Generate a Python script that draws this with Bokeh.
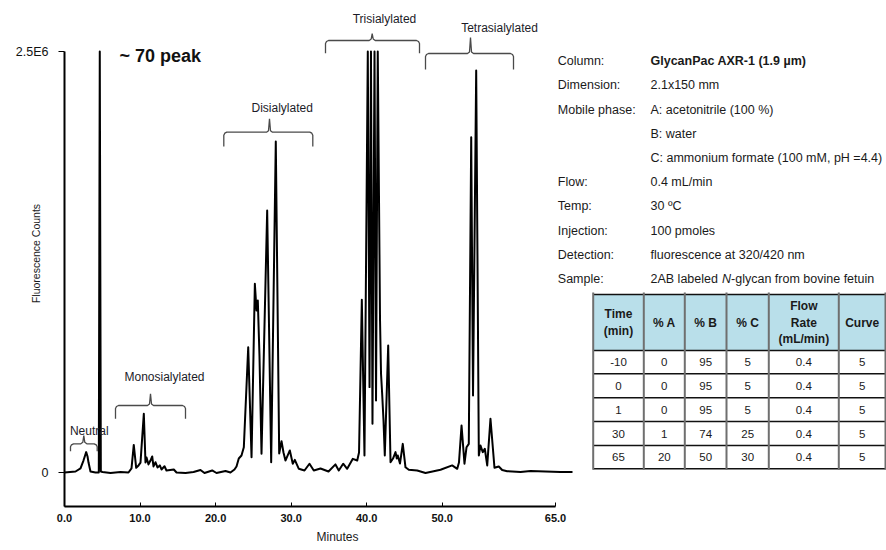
import math
from bokeh.plotting import figure
from bokeh.models import Range1d, FixedTicker, NumeralTickFormatter, Title
from bokeh.core.properties import value
from bokeh.embed import file_html
from bokeh.resources import INLINE

# ---------------- data ----------------
trace_time_min = [
    0.00, 1.46, 2.12, 2.51, 2.87, 3.05, 3.18, 3.44, 4.10, 4.54, 4.67, 4.81, 5.03, 6.09, 7.41,
    8.47, 8.87, 9.17, 9.49, 9.80, 10.06, 10.50, 10.72, 10.86, 11.12, 11.38, 11.61, 11.78, 12.05,
    12.31, 12.62, 12.84, 13.24, 13.50, 14.47, 14.83, 16.02, 17.08, 18.00, 18.53, 19.55, 20.12,
    21.31, 21.97, 22.50, 22.77, 23.07, 23.43, 23.74, 24.32, 24.76, 25.20, 25.42, 25.59, 25.81,
    26.08, 26.83, 27.36, 27.97, 28.42, 28.73, 28.99, 29.25, 29.83, 30.22, 30.49, 31.02, 31.77,
    32.43, 33.00, 33.89, 34.95, 35.87, 36.31, 36.89, 37.42, 38.17, 38.75, 38.99, 39.36, 39.71,
    40.15, 40.38, 40.57, 40.77, 41.04, 41.24, 41.47, 41.77, 41.90, 42.05, 42.23, 42.40, 42.85,
    43.16, 43.49, 43.82, 43.99, 44.12, 44.41, 44.78, 45.14, 45.58, 46.69, 47.79, 48.72, 49.78,
    51.32, 51.99, 52.22, 52.56, 52.95, 53.22, 53.52, 53.84, 54.08, 54.50, 54.85, 55.07, 55.37,
    55.64, 55.96, 56.39, 56.92, 57.49, 57.94, 58.60, 60.37, 61.69, 63.67, 65.66, 67.25,
]
trace_counts_1e6 = [
    0.000, 0.006, 0.024, 0.071, 0.121, 0.095, 0.059, 0.006, 0.000, 0.000, 2.500, 0.006, 0.003, -0.003, 0.003,
    0.000, 0.024, 0.164, 0.028, 0.042, 0.059, 0.349, 0.059, 0.089, 0.048, 0.071, 0.095, 0.036, 0.061,
    0.030, 0.042, 0.018, 0.037, 0.012, 0.018, 0.000, -0.003, 0.003, 0.015, -0.003, 0.012, -0.003,
    0.009, 0.000, 0.018, 0.036, 0.083, 0.101, 0.150, 0.744, 0.091, 1.121, 0.962, 1.021, 0.695,
    0.111, 1.556, 0.061, 1.966, 0.113, 0.186, 0.119, 0.071, 0.131, 0.052, 0.075, 0.022, 0.012,
    0.052, 0.012, 0.024, 0.006, 0.048, 0.012, 0.052, 0.022, 0.081, 0.071, 0.119, 1.026, 0.101,
    2.500, 0.507, 2.500, 0.289, 2.500, 0.428, 2.500, 0.903, 0.588, 0.469, 0.309, 0.101, 0.754,
    0.061, 0.083, 0.121, 0.083, 0.101, 0.053, 0.170, 0.031, 0.016, 0.012, -0.003, 0.006, 0.016,
    0.042, 0.022, 0.059, 0.279, 0.052, 0.150, 0.170, 1.991, 0.457, 2.387, 0.101, 0.160, 0.121,
    0.141, 0.042, 0.319, 0.028, 0.036, 0.015, 0.008, 0.003, 0.009, 0.006, 0.003, 0.003,
]

x_tick_values = [0, 10, 20, 30, 40, 50, 65]
y_tick_values = [0, 2.5]
y_tick_labels = ["0", "2.5E6"]

peak_groups = ["Neutral", "Monosialylated", "Disialylated", "Trisialylated", "Tetrasialylated"]

cond_labels = ["Column:", "Dimension:", "Mobile phase:", "", "", "Flow:", "Temp:",
               "Injection:", "Detection:", "Sample:"]
cond_values = ["GlycanPac AXR-1 (1.9 µm)", "2.1x150 mm", "A: acetonitrile (100 %)", "B: water",
               "C: ammonium formate (100 mM, pH =4.4)", "0.4 mL/min", "30 ºC", "100 pmoles",
               "fluorescence at 320/420 nm", "2AB labeled N-glycan from bovine fetuin"]
sample_parts = ["2AB labeled ", "N", "-glycan from bovine fetuin"]

table_header = [["Time", "(min)"], ["% A"], ["% B"], ["% C"], ["Flow", "Rate", "(mL/min)"], ["Curve"]]
grad_time = [-10, 0, 1, 30, 65]
grad_a = [0, 0, 0, 1, 20]
grad_b = [95, 95, 95, 74, 50]
grad_c = [5, 5, 5, 25, 30]
grad_flow = [0.4, 0.4, 0.4, 0.4, 0.4]
grad_curve = [5, 5, 5, 5, 5]

# ---------------- layout ----------------
W, H = 886, 550
BL, BB = 64, 44
FW, FH = W - BL, H - BB
PX_PER_MIN = 7.554
PX_PER_M = 168.4
ZERO_PY = 472.0


def X(px):
    return (px - BL) / PX_PER_MIN


def Y(py):
    return (ZERO_PY - py) / PX_PER_M


x_end = FW / PX_PER_MIN
y_end = ZERO_PY / PX_PER_M
y_start = -(FH - ZERO_PY) / PX_PER_M

FONT = "Liberation Sans"
TXT = "#1a1a1a"

p = figure(width=W, height=H, x_range=Range1d(0, x_end), y_range=Range1d(y_start, y_end),
           output_backend="svg", toolbar_location=None,
           min_border_left=BL, min_border_right=0, min_border_top=0, min_border_bottom=BB,
           background_fill_color="white", border_fill_color="white")
p.outline_line_color = None
p.grid.visible = False

xa = p.xaxis[0]
xa.bounds = (0, 65)
xa.ticker = FixedTicker(ticks=x_tick_values)
xa.formatter = NumeralTickFormatter(format="0.0")
xa.major_tick_in = 4
xa.major_tick_out = 0
xa.minor_tick_in = 0
xa.minor_tick_out = 0
xa.axis_line_width = 2
xa.axis_line_color = "black"
xa.major_tick_line_color = "black"
xa.major_label_text_font = FONT
xa.major_label_text_font_size = "11px"
xa.major_label_text_font_style = "bold"
xa.major_label_text_color = "#111111"
xa.major_label_standoff = 7

# x-axis title, placed under the axis at the position used in the original
p.add_layout(Title(text="Minutes", align="left", offset=337 - 21 - BL, standoff=9,
                   vertical_align="middle", text_font=FONT, text_font_size="12px",
                   text_font_style="normal", text_color=TXT), "below")

ya = p.yaxis[0]
ya.bounds = (y_start, 2.5)
ya.ticker = FixedTicker(ticks=y_tick_values)
ya.major_label_overrides = {t: l for t, l in zip(y_tick_values, y_tick_labels)}
ya.major_tick_in = 0
ya.major_tick_out = 6
ya.minor_tick_in = 0
ya.minor_tick_out = 0
ya.axis_line_width = 2
ya.axis_line_color = "black"
ya.major_tick_line_color = "black"
ya.major_label_text_font = FONT
ya.major_label_text_font_size = "12.5px"
ya.major_label_text_color = "#111111"
ya.major_label_standoff = 10
ya.axis_label = "Fluorescence Counts"
ya.axis_label_standoff = -29
ya.axis_label_text_font = FONT
ya.axis_label_text_font_size = "10.5px"
ya.axis_label_text_font_style = "normal"
ya.axis_label_text_color = TXT

# chromatogram trace
p.line(trace_time_min, trace_counts_1e6, line_color="black", line_width=2, line_join="round")

# group brackets: (left, right, apex, bar, end, apex_top, text_x, text_y) in picture px
bracket_px = {
    "Neutral": (70, 96.7, 83.3, 443.3, 450.7, 435, 88.8, 430),
    "Monosialylated": (115, 185, 150, 405, 418.3, 393.3, 164, 376.7),
    "Disialylated": (223.3, 312.3, 269, 131.7, 146, 118.3, 281.7, 107.3),
    "Trisialylated": (325, 419, 371.7, 40, 52.7, 33, 384, 18.3),
    "Tetrasialylated": (425, 513, 470, 53, 69, 37, 499, 27.3),
}
bxs, bys, tx, ty = [], [], [], []
for g in peak_groups:
    L, R, A, yb, ye, yt, lx, ly = bracket_px[g]
    pts = [(L, ye), (L, yb + 3), (L + 1, yb + 1), (L + 3, yb), (A - 3, yb), (A - 1, yb - 1.5),
           (A, yt), (A + 1, yb - 1.5), (A + 3, yb), (R - 3, yb), (R - 1, yb + 1), (R, yb + 3), (R, ye)]
    bxs.append([X(a) for a, _ in pts])
    bys.append([Y(b) for _, b in pts])
    tx.append(X(lx))
    ty.append(Y(ly))
p.multi_line(bxs, bys, line_color="#4a4a4a", line_width=1.3)
p.text(x=tx, y=ty, text=peak_groups, text_font=value(FONT), text_font_size=value("12px"),
       text_align="center", text_baseline="middle", text_color="#1c1c28")

p.text(x=[X(119)], y=[Y(55)], text=["~ 70 peak"], text_font=value(FONT),
       text_font_size=value("18px"), text_font_style="bold", text_align="left",
       text_baseline="middle", text_color="#111111")

# conditions block
FS_INFO = "12.5px"
row_py = [60.7 + 24.2 * i for i in range(len(cond_labels))]
lab_x = X(557.3)
val_x = X(650)
p.text(x=[lab_x] * len(cond_labels), y=[Y(r) for r in row_py], text=cond_labels,
       text_font=value(FONT), text_font_size=value(FS_INFO), text_align="left",
       text_baseline="middle", text_color=TXT)
p.text(x=[val_x], y=[Y(row_py[0])], text=[cond_values[0]], text_font=value(FONT),
       text_font_size=value(FS_INFO), text_font_style="bold", text_align="left",
       text_baseline="middle", text_color=TXT)
p.text(x=[val_x] * 8, y=[Y(r) for r in row_py[1:9]], text=cond_values[1:9],
       text_font=value(FONT), text_font_size=value(FS_INFO), text_align="left",
       text_baseline="middle", text_color=TXT)
sx = [650, 721.6, 730.6]
styles = ["normal", "italic", "normal"]
for part, spx, st in zip(sample_parts, sx, styles):
    p.text(x=[X(spx)], y=[Y(row_py[9])], text=[part], text_font=value(FONT),
           text_font_size=value(FS_INFO), text_font_style=st, text_align="left",
           text_baseline="middle", text_color=TXT)

# gradient table
col_px = [592.7, 643.3, 684.3, 726.0, 768.3, 838.3, 885.0]
rowb_px = [294, 350, 373.3, 397.3, 421, 445, 468.3]
p.quad(left=[X(col_px[0])], right=[X(col_px[-1])], top=[Y(rowb_px[0])], bottom=[Y(rowb_px[1])],
       fill_color="#b9dfea", line_color=None)
p.segment(x0=[X(col_px[0])] * len(rowb_px), x1=[X(col_px[-1])] * len(rowb_px),
          y0=[Y(r) for r in rowb_px], y1=[Y(r) for r in rowb_px],
          line_color="#111111", line_width=1.5)
p.segment(x0=[X(c) for c in col_px], x1=[X(c) for c in col_px],
          y0=[Y(rowb_px[0] - 2)] * len(col_px), y1=[Y(rowb_px[-1] + 1)] * len(col_px),
          line_color="#6f6f6f", line_width=2)

col_c = [(col_px[i] + col_px[i + 1]) / 2 for i in range(6)]
hx, hy, ht = [], [], []
for c, lines in zip(col_c, table_header):
    n = len(lines)
    for k, t in enumerate(lines):
        hx.append(X(c))
        hy.append(Y(322 + (k - (n - 1) / 2) * 16.7))
        ht.append(t)
p.text(x=hx, y=hy, text=ht, text_font=value(FONT), text_font_size=value("12px"),
       text_font_style="bold", text_align="center", text_baseline="middle", text_color=TXT)

body_cols = [grad_time, grad_a, grad_b, grad_c, grad_flow, grad_curve]
bx, by, bt = [], [], []
for ci, col in enumerate(body_cols):
    for ri, v in enumerate(col):
        bx.append(X(col_c[ci]))
        by.append(Y((rowb_px[ri + 1] + rowb_px[ri + 2]) / 2))
        bt.append(str(v))
p.text(x=bx, y=by, text=bt, text_font=value(FONT), text_font_size=value("11.5px"),
       text_align="center", text_baseline="middle", text_color=TXT)

open("out.html", "w").write(file_html(p, INLINE))
